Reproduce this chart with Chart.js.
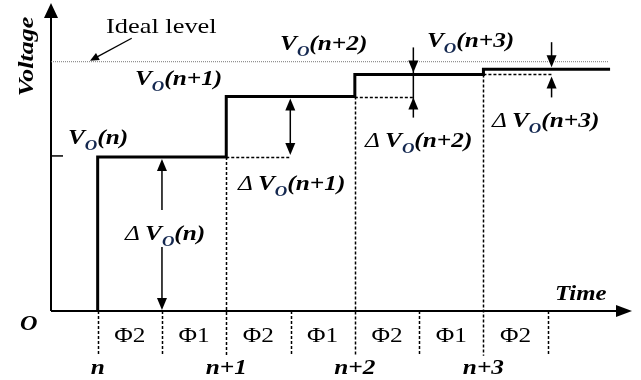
<!DOCTYPE html>
<html>
<head>
<meta charset="utf-8">
<script src="https://cdn.jsdelivr.net/npm/chart.js@4/dist/chart.umd.min.js"></script>
<style>
html,body{margin:0;padding:0;background:#fff;}
#wrap{width:641px;height:380px;position:relative;}
#c{position:absolute;left:0;top:0;}
.pre{position:absolute;left:300px;top:200px;color:rgba(255,255,255,0);font-size:22px;font-family:Liberation Serif;white-space:nowrap;}
</style>
</head>
<body>
<div id="wrap">
<span class="pre" style="font-style:italic;font-weight:bold">VO(n+1) Time Voltage</span>
<span class="pre" style="font-style:italic">Δ</span>
<span class="pre">Ideal level Φ2</span>
<canvas id="c" width="641" height="380"></canvas>
</div>
<script>
// ---- data ----
const phaseBounds = [0, 1, 2, 3, 4, 5, 6, 7];
const phaseLabels = ['Φ2', 'Φ1', 'Φ2', 'Φ1', 'Φ2', 'Φ1', 'Φ2'];
const sampleTimes = [0, 2, 4, 6];
const sampleLabels = ['n', 'n+1', 'n+2', 'n+3'];
const outputLevels = [0.618, 0.860, 0.949, 0.970];
const idealLevel = 1.0;
const timeEnd = 7.97;
const idealEnd = 7.94;
const deltaArrowX = [1, 2.996, 4.91, 7.06];

// ---- build datasets from data ----
const stepPoints = [{x: sampleTimes[0], y: 0}];
sampleTimes.forEach((t, i) => stepPoints.push({x: t, y: outputLevels[i]}));
stepPoints.push({x: timeEnd, y: outputLevels[outputLevels.length - 1]});

const X_MIN = -0.726, X_MAX = 8.311, Y_MIN = 0, Y_MAX = 1.2355;
const idealPoints = [{x: X_MIN, y: idealLevel}, {x: idealEnd, y: idealLevel}];

const labelLayout = {
  vo: [[-0.462, 0.670], [0.580, 0.907], [2.836, 1.047], [5.122, 1.060]],
  dvo: [[0.425, 0.285], [2.182, 0.485], [4.158, 0.658], [6.133, 0.738]]
};

const SERIF = 'Liberation Serif';
const SX = 1.15;

document.querySelectorAll('.pre').forEach(s => s.getBoundingClientRect().width);

function head(ctx, x, y, dx, dy, len, hw) {
  ctx.beginPath();
  ctx.moveTo(x, y);
  ctx.lineTo(x - dx * len - dy * hw, y - dy * len + dx * hw);
  ctx.lineTo(x - dx * len + dy * hw, y - dy * len - dx * hw);
  ctx.closePath();
  ctx.fill();
}
function line(ctx, x1, y1, x2, y2) {
  ctx.beginPath(); ctx.moveTo(x1, y1); ctx.lineTo(x2, y2); ctx.stroke();
}
function rich(ctx, parts, x, y, sx, align) {
  ctx.save();
  let w = 0;
  parts.forEach(p => { ctx.font = p.font; w += ctx.measureText(p.t).width; });
  ctx.translate(x, y);
  ctx.scale(sx, 1);
  let cx = align === 'center' ? -w / 2 : 0;
  ctx.textAlign = 'left';
  ctx.textBaseline = 'alphabetic';
  parts.forEach(p => {
    ctx.font = p.font;
    ctx.fillStyle = p.color || '#000';
    ctx.fillText(p.t, cx, p.dy || 0);
    cx += ctx.measureText(p.t).width;
  });
  ctx.restore();
}
function voParts(arg, delta) {
  const parts = [];
  if (delta) {
    parts.push({t: 'Δ', font: 'italic 22px ' + SERIF});
    parts.push({t: ' ', font: 'italic 18px ' + SERIF});
  }
  parts.push({t: 'V', font: 'italic bold 22px ' + SERIF});
  parts.push({t: 'O', font: 'italic bold 15px ' + SERIF, dy: 6, color: '#142850'});
  parts.push({t: '(' + arg + ')', font: 'italic bold 22px ' + SERIF});
  return parts;
}

const diagramPlugin = {
  id: 'diagram',
  beforeDatasetsDraw(chart) {
    const ctx = chart.ctx, xs = chart.scales.x, ys = chart.scales.y;
    const px = v => xs.getPixelForValue(v), py = v => ys.getPixelForValue(v);
    const a = chart.chartArea;
    ctx.save();
    ctx.strokeStyle = '#000'; ctx.fillStyle = '#000';
    ctx.lineWidth = 1.5; ctx.setLineDash([3, 2]);
    phaseBounds.forEach(b => {
      const idx = sampleTimes.indexOf(b);
      let top = 0;
      if (idx > 0) top = outputLevels[idx - 1];
      const x = Math.round(px(b)) + 0.5;
      line(ctx, x, py(top), x, py(-0.18));
    });
    for (let i = 1; i < sampleTimes.length; i++) {
      const y = Math.round(py(outputLevels[i - 1])) + 0.5;
      line(ctx, px(sampleTimes[i]), y, px(deltaArrowX[i]), y);
    }
    ctx.setLineDash([]);
    ctx.lineWidth = 2;
    const ax = a.left, ay = py(0);
    line(ctx, ax, ay, ax, a.top + 12);
    head(ctx, ax, a.top, 0, -1, 15, 7);
    line(ctx, ax, ay, a.right - 12, ay);
    head(ctx, a.right, ay, 1, 0, 16, 6);
    ctx.lineWidth = 1.5;
    line(ctx, ax, py(outputLevels[0]) - 1, ax + 12, py(outputLevels[0]) - 1);
    ctx.restore();
  },
  afterDatasetsDraw(chart) {
    const xs = chart.scales.x, ys = chart.scales.y;
    const px = v => xs.getPixelForValue(v), py = v => ys.getPixelForValue(v);
    const ctx = chart.canvas.getContext('2d');
    ctx.save();
    ctx.strokeStyle = '#000'; ctx.fillStyle = '#000'; ctx.lineWidth = 1.5;
    const L = 12, H = 5;
    {
      const x = px(deltaArrowX[0]);
      const t1 = py(outputLevels[0]) + 2, t2 = py(0) - 1;
      const base = py(labelLayout.dvo[0][1]);
      line(ctx, x, t1 + 4, x, base - 30);
      line(ctx, x, base + 7, x, t2 - 4);
      head(ctx, x, t1, 0, -1, L, H);
      head(ctx, x, t2, 0, 1, L, H);
    }
    {
      const x = px(deltaArrowX[1]);
      const t1 = py(outputLevels[1]) + 2, t2 = py(outputLevels[0]) - 2;
      line(ctx, x, t1 + 4, x, t2 - 4);
      head(ctx, x, t1, 0, -1, L, H);
      head(ctx, x, t2, 0, 1, L, H);
    }
    {
      const x = px(deltaArrowX[2]);
      const tDown = py(outputLevels[2]) - 2, tUp = py(outputLevels[1]) + 1;
      line(ctx, x, tDown - 25, x, tUp + 20);
      head(ctx, x, tDown, 0, 1, L, H);
      head(ctx, x, tUp, 0, -1, L, H);
    }
    {
      const x = px(deltaArrowX[3]);
      const tDown = py(outputLevels[3]) - 2, tUp = py(outputLevels[2]) + 2;
      line(ctx, x, tDown - 25, x, tDown - 4);
      line(ctx, x, tUp + 21, x, tUp + 4);
      head(ctx, x, tDown, 0, 1, L, H);
      head(ctx, x, tUp, 0, -1, L, H);
    }
    {
      const x1 = 131.7, y1 = 38.3, x2 = px(-0.12), y2 = py(idealLevel) - 1;
      const dx = x2 - x1, dy = y2 - y1, d = Math.hypot(dx, dy);
      ctx.lineWidth = 1.3;
      line(ctx, x1, y1, x2 - dx / d * 5, y2 - dy / d * 5);
      head(ctx, x2, y2, dx / d, dy / d, 9, 4);
    }
    sampleLabels.forEach((s, i) => {
      const p = labelLayout.vo[i];
      rich(ctx, voParts(s, false), px(p[0]), py(p[1]), SX, 'left');
      const q = labelLayout.dvo[i];
      rich(ctx, voParts(s, true), px(q[0]), py(q[1]), SX, 'left');
      rich(ctx, [{t: s, font: 'italic bold 22px ' + SERIF}], px(sampleTimes[i]), py(-0.252), SX, 'center');
    });
    phaseLabels.forEach((s, i) => {
      rich(ctx, [{t: s, font: '22px ' + SERIF}], px(phaseBounds[i] + 0.5), py(-0.123), SX, 'center');
    });
    rich(ctx, [{t: 'Ideal level', font: '22px ' + SERIF}], 106, 33, 1.2, 'left');
    rich(ctx, [{t: 'O', font: 'italic bold 22px ' + SERIF}], 20, py(0) + 19, 1.1, 'left');
    rich(ctx, [{t: 'Time', font: 'italic bold 22px ' + SERIF}], 555, py(0) - 11, 1.13, 'left');
    ctx.save();
    ctx.translate(33, 56.5);
    ctx.rotate(-Math.PI / 2);
    rich(ctx, [{t: 'Voltage', font: 'italic bold 22px ' + SERIF}], 0, 0, 1.18, 'center');
    ctx.restore();
    // invisible font warm-up (same calls as the run that rendered serif)
    ctx.font = 'italic bold 22px ' + SERIF;
    const f = ctx.font;
    ctx.font = '10px Liberation Sans';
    ctx.fillStyle = '#fff';
    ctx.fillText(f.length > 0 ? ' ' : ' ', 620, 378);
    ctx.restore();
  }
};

const chart = new Chart(document.getElementById('c'), {
  type: 'line',
  data: {
    datasets: [
      {
        data: stepPoints,
        stepped: 'before',
        borderColor: '#000',
        borderWidth: 3,
        pointRadius: 0,
        fill: false,
        clip: false,
        borderCapStyle: 'butt',
        borderJoinStyle: 'miter'
      },
      {
        data: idealPoints,
        borderColor: '#777',
        borderWidth: 1,
        borderDash: [1, 1],
        pointRadius: 0,
        fill: false
      }
    ]
  },
  options: {
    responsive: false,
    animation: false,
    devicePixelRatio: 1,
    layout: {padding: {left: 51, right: 9, top: 3, bottom: 69}},
    scales: {
      x: {type: 'linear', min: X_MIN, max: X_MAX, display: false},
      y: {type: 'linear', min: Y_MIN, max: Y_MAX, display: false}
    },
    plugins: {legend: {display: false}, tooltip: {enabled: false}, title: {display: false}},
    events: []
  },
  plugins: [diagramPlugin]
});
const redraw = () => chart.draw();
['italic bold 22px Liberation Serif', 'italic 22px Liberation Serif', '22px Liberation Serif', 'italic bold 15px Liberation Serif']
  .forEach(f => document.fonts.load(f).then(redraw, () => {}));
if (document.fonts && document.fonts.ready) document.fonts.ready.then(redraw);
window.addEventListener('load', redraw);
setTimeout(redraw, 50);
setTimeout(redraw, 200);
requestAnimationFrame(() => requestAnimationFrame(redraw));
</script>
</body>
</html>
